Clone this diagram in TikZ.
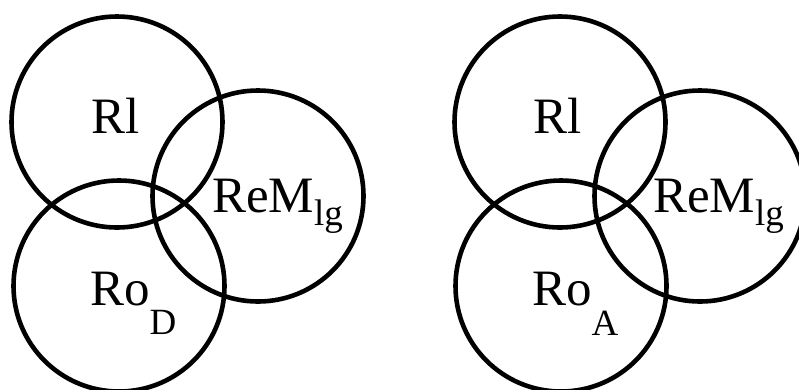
\documentclass[tikz,border=0pt]{standalone}
\usepackage{fontspec}
\setmainfont{Liberation Serif}
\newcommand{\lowsub}[2]{\raisebox{-#1}{\fontsize{37}{37}\selectfont #2}}

\begin{document}
\begin{tikzpicture}[x=1pt, y=-1pt]
			\tikzstyle{ring} = [circle, minimum size=211pt, inner sep=0pt, draw=black, line width=4.6pt]
			\tikzstyle{lbl}  = [anchor=base west, inner sep=0pt, font=\fontsize{51}{51}\selectfont]

			\useasboundingbox (0,0) rectangle (799,389);

			\foreach \name/\x/\y in {rlD/117/122, remD/258/196, roD/119/286, rlA/560/122, remA/700/196, roA/561/286}
				\node[ring] (\name) at (\x, \y) {};

			% left diagram
			\node[lbl] (txtrlD) at (91, 133) {Rl};
			\node[lbl] (txtremD) at (212, 212) {ReM\lowsub{13pt}{lg}};
			\node[lbl] (txtroD) at (90, 305) {Ro\lowsub{29pt}{D}};

			% right diagram
			\node[lbl] (txtrlA) at (533, 133) {Rl};
			\node[lbl] (txtremA) at (653, 212) {ReM\lowsub{13pt}{lg}};
			\node[lbl] (txtroA) at (532, 305) {Ro\lowsub{30pt}{A}};

		\end{tikzpicture}
\end{document}
